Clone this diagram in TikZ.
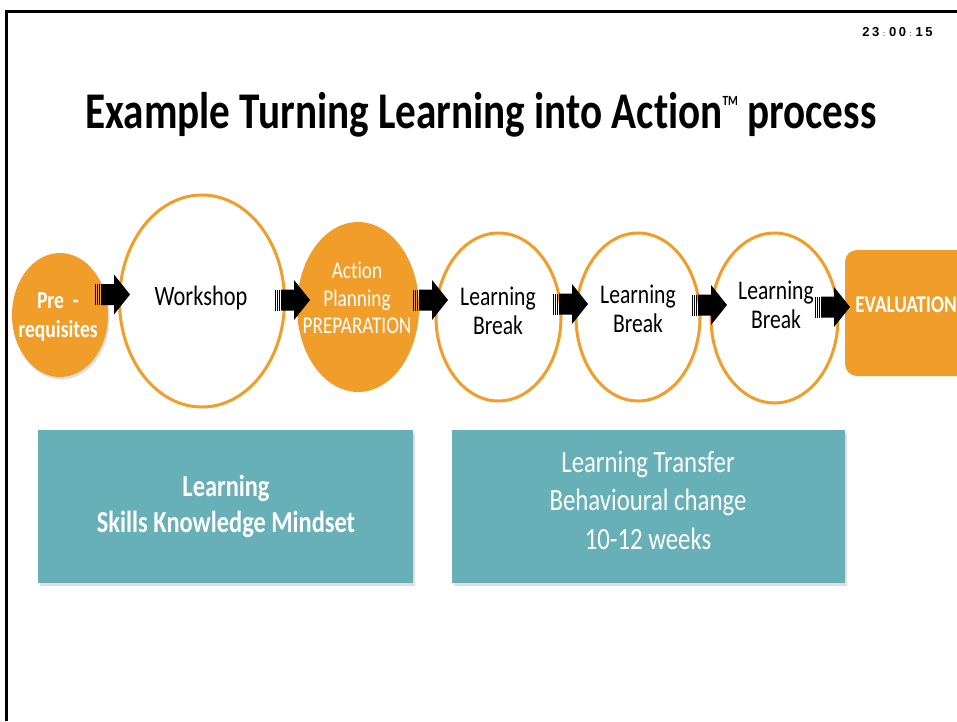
\documentclass[tikz,border=0pt]{standalone}
\usepackage{fontspec}
\setmainfont{Carlito}[FakeStretch=0.8,Ligatures=NoCommon]
\newfontfamily\clockfont{Liberation Sans}
\usetikzlibrary{shapes.geometric,shadows}
\definecolor{tlaorange}{RGB}{240,157,42}
\definecolor{tlateal}{RGB}{103,176,184}

\begin{document}
\begin{tikzpicture}[x=1pt,y=-1pt,
  stage/.style={ellipse,inner sep=0pt,draw=tlaorange,line width=3pt,fill=white},
  stagefilled/.style={ellipse,inner sep=0pt,fill=tlaorange},
  softshadow/.style={drop shadow={shadow xshift=1.5pt,shadow yshift=-2.5pt,opacity=0.25}},
  darktext/.style={align=center,text=black},
  lighttext/.style={align=center,text=white},
  tealbox/.style={rectangle,fill=tlateal,inner sep=0pt,softshadow},
  pics/striparrow/.style={code={
    \fill (-17.5,-10.5) rectangle (-16.3,10.5);
    \fill (-15.5,-10.5) rectangle (-14.3,10.5);
    \fill (-13.5,-10.5) rectangle (-12.3,10.5);
    \fill (-11.5,-10.5) -- (1.5,-10.5) -- (1.5,-20) -- (17.5,0)
          -- (1.5,20) -- (1.5,10.5) -- (-11.5,10.5) -- cycle;
  }}]
\useasboundingbox (0,0) rectangle (957,721);
\fill[white] (0,0) rectangle (957,721);

% frame
\draw[line width=3pt] (6.5,721) -- (6.5,11.5) -- (957,11.5);

% clock
\newcommand\clocksep{\kern3.5pt{\color{gray}\fontsize{8}{8}\selectfont:}\kern3.5pt}
\node (clock) at (897.5,32) {\clockfont\bfseries\fontsize{13}{13}\selectfont
  2\kern2.5pt3\clocksep0\kern2.5pt0\clocksep1\kern2.5pt5};

% title
\node (title) at (481,115) {\bfseries\fontsize{51.5}{54}\selectfont Example Turning Learning into
  Action\raisebox{23pt}{\fontsize{14}{14}\selectfont TM}\ process};

% stages
\node[stagefilled,softshadow,minimum width=96pt,minimum height=124pt] (pre) at (60,315) {};
\node[stage,minimum width=165pt,minimum height=212pt] (ws) at (202,301) {};
\node[stagefilled,minimum width=122pt,minimum height=170pt] (ap) at (358,307) {};
\node[stage,minimum width=125pt,minimum height=168pt] (lb1) at (498.5,317) {};
\node[stage,minimum width=124pt,minimum height=168pt] (lb2) at (638,317) {};
\node[stage,minimum width=127pt,minimum height=170pt] (lb3) at (774.5,318) {};
\node[rectangle,rounded corners=12pt,fill=tlaorange,minimum width=124pt,minimum height=126pt] (ev) at (907,313) {};

% stage labels
\node[lighttext,font=\bfseries\fontsize{24.5}{29}\selectfont] (pretxt) at (58,317) {Pre \ -\\requisites};
\node[darktext,font=\fontsize{28}{30}\selectfont] (wstxt) at (201,298) {Workshop};
\node[lighttext,font=\fontsize{24}{27.5}\selectfont] (aptxt) at (357,298) {Action\\Planning\\PREPARATION};
\node[darktext,font=\fontsize{27}{29}\selectfont] (lb1txt) at (498,311) {Learning\\Break};
\node[darktext,font=\fontsize{27}{29}\selectfont] (lb2txt) at (638,309) {Learning\\Break};
\node[darktext,font=\fontsize{27}{29}\selectfont] (lb3txt) at (776,305) {Learning\\Break};
\node[lighttext,font=\bfseries\fontsize{24}{25}\selectfont] (evtxt) at (906,305) {EVALUATION};

% block arrows between stages
\pic at (112.5,294.5) {striparrow};
\pic at (292.5,300) {striparrow};
\pic at (430.5,300) {striparrow};
\pic at (570.5,304) {striparrow};
\pic at (709.5,305) {striparrow};
\pic at (832.5,307) {striparrow};

% phase boxes
\node[tealbox,minimum width=375pt,minimum height=153pt] (learn) at (225.5,506.5) {};
\node[tealbox,minimum width=393pt,minimum height=153pt] (transfer) at (648.5,506.5) {};
\node[lighttext,font=\bfseries\fontsize{30.5}{36}\selectfont] (learntxt) at (226,506)
  {Learning\\Skills Knowledge Mindset};
\node[lighttext,font=\fontsize{31}{38.5}\selectfont] (transfertxt) at (648,500)
  {Learning Transfer\\Behavioural change\\10-12 weeks};
\end{tikzpicture}
\end{document}
